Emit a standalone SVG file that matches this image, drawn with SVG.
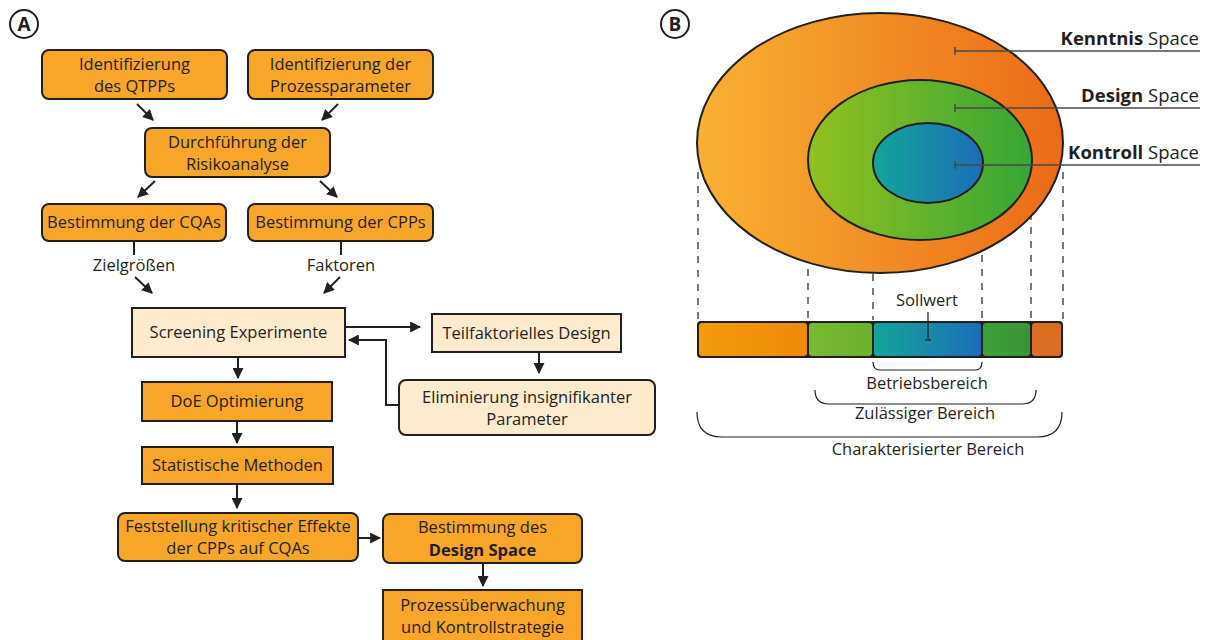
<svg xmlns="http://www.w3.org/2000/svg" width="1209" height="640" viewBox="0 0 1209 640">
  <style>
    text { font-family: "Open Sans", "Liberation Sans", sans-serif; font-size: 16.5px; fill: #231F20; }
    .c { text-anchor: middle; }
    .r { text-anchor: end; }
    .b { font-weight: bold; }
    .lg { font-size: 18.5px; }
    .box { fill: #F8A62A; stroke: #231F20; stroke-width: 2; }
    .lbox { fill: #FDEBCD; stroke: #231F20; stroke-width: 2; }
    .conn { fill: none; stroke: #231F20; stroke-width: 2; }
    .thin { fill: none; stroke: #231F20; stroke-width: 1.2; }
    .dash { fill: none; stroke: #231F20; stroke-width: 1.2; stroke-dasharray: 7 7; }
    .lead { fill: none; stroke: #4a4a4a; stroke-width: 1.5; }
    .badge { fill: #fff; stroke: #231F20; stroke-width: 2; }
    .badge-t { font-size: 19px; font-weight: bold; }
  </style>
  <defs>
    <marker id="arr" viewBox="0 0 10 10" refX="9" refY="5" markerWidth="5.5" markerHeight="5.5" orient="auto" markerUnits="strokeWidth">
      <path d="M0,0 L10,5 L0,10 z" fill="#231F20"/>
    </marker>
    <linearGradient id="gOuter" x1="0" y1="0" x2="1" y2="0">
      <stop offset="0" stop-color="#F8B133"/>
      <stop offset="1" stop-color="#EB6A17"/>
    </linearGradient>
    <linearGradient id="gMid" x1="0" y1="0" x2="1" y2="0">
      <stop offset="0" stop-color="#93C11F"/>
      <stop offset="1" stop-color="#36A636"/>
    </linearGradient>
    <linearGradient id="gIn" x1="0" y1="0" x2="1" y2="0">
      <stop offset="0" stop-color="#14A59A"/>
      <stop offset="1" stop-color="#1C6DB6"/>
    </linearGradient>
    <linearGradient id="gBarO" x1="0" y1="0" x2="1" y2="0">
      <stop offset="0" stop-color="#F39A0C"/>
      <stop offset="1" stop-color="#EE8A0A"/>
    </linearGradient>
    <linearGradient id="gBarG1" x1="0" y1="0" x2="1" y2="0">
      <stop offset="0" stop-color="#79B833"/>
      <stop offset="1" stop-color="#6AB02C"/>
    </linearGradient>
    <linearGradient id="gBarG2" x1="0" y1="0" x2="1" y2="0">
      <stop offset="0" stop-color="#3FA03A"/>
      <stop offset="1" stop-color="#3A9436"/>
    </linearGradient>
  </defs>

  <!-- Panel A: workflow -->
  <g id="badgeA">
    <circle class="badge" cx="24" cy="24" r="14"/>
    <text class="c badge-t" x="24" y="31">A</text>
  </g>

  <g id="n-qtpp">
    <rect class="box" x="42" y="50" width="185" height="49" rx="7"/>
    <text class="c" x="134.5" y="70">Identifizierung</text>
    <text class="c" x="134.5" y="92">des QTPPs</text>
  </g>
  <g id="n-pp">
    <rect class="box" x="248" y="50" width="185" height="49" rx="7"/>
    <text class="c" x="340.5" y="70">Identifizierung der</text>
    <text class="c" x="340.5" y="92">Prozessparameter</text>
  </g>
  <g id="n-risk">
    <rect class="box" x="145" y="128" width="185" height="49" rx="7"/>
    <text class="c" x="237.5" y="148">Durchführung der</text>
    <text class="c" x="237.5" y="170">Risikoanalyse</text>
  </g>
  <g id="n-cqa">
    <rect class="box" x="42" y="204" width="184" height="37" rx="7"/>
    <text class="c" x="134" y="228">Bestimmung der CQAs</text>
  </g>
  <g id="n-cpp">
    <rect class="box" x="248" y="204" width="185" height="37" rx="7"/>
    <text class="c" x="340.5" y="228">Bestimmung der CPPs</text>
  </g>
  <g id="n-screen">
    <rect class="lbox" x="132" y="308" width="213" height="49"/>
    <text class="c" x="238.5" y="338">Screening Experimente</text>
  </g>
  <g id="n-teil">
    <rect class="lbox" x="432" y="314" width="189" height="38"/>
    <text class="c" x="526.5" y="339">Teilfaktorielles Design</text>
  </g>
  <g id="n-elim">
    <rect class="lbox" x="399" y="380" width="256" height="55" rx="7"/>
    <text class="c" x="527" y="403">Eliminierung insignifikanter</text>
    <text class="c" x="527" y="425">Parameter</text>
  </g>
  <g id="n-doe">
    <rect class="box" x="142" y="382" width="190" height="39"/>
    <text class="c" x="237" y="407">DoE Optimierung</text>
  </g>
  <g id="n-stat">
    <rect class="box" x="142" y="447" width="191" height="37"/>
    <text class="c" x="237.5" y="471">Statistische Methoden</text>
  </g>
  <g id="n-fest">
    <rect class="box" x="118" y="513" width="240" height="48" rx="7"/>
    <text class="c" x="238" y="532">Feststellung kritischer Effekte</text>
    <text class="c" x="238" y="554">der CPPs auf CQAs</text>
  </g>
  <g id="n-ds">
    <rect class="box" x="383" y="514" width="199" height="49" rx="7"/>
    <text class="c" x="482.5" y="533">Bestimmung des</text>
    <text class="c b" x="482.5" y="556">Design Space</text>
  </g>
  <g id="n-proz">
    <rect class="box" x="383" y="590" width="199" height="52"/>
    <text class="c" x="482.5" y="611">Prozessüberwachung</text>
    <text class="c" x="482.5" y="633">und Kontrollstrategie</text>
  </g>

  <g id="connectors">
    <line class="conn" x1="137" y1="104" x2="153" y2="120" marker-end="url(#arr)"/>
    <line class="conn" x1="338" y1="104" x2="322" y2="120" marker-end="url(#arr)"/>
    <line class="conn" x1="155" y1="181" x2="138" y2="197" marker-end="url(#arr)"/>
    <line class="conn" x1="320" y1="181" x2="337" y2="197" marker-end="url(#arr)"/>
    <line class="conn" x1="134" y1="241" x2="134" y2="255"/>
    <text class="c" x="134" y="271">Zielgrößen</text>
    <line class="conn" x1="341" y1="241" x2="341" y2="255"/>
    <text class="c" x="341" y="271">Faktoren</text>
    <line class="conn" x1="135" y1="277" x2="152" y2="293" marker-end="url(#arr)"/>
    <line class="conn" x1="340" y1="277" x2="324" y2="293" marker-end="url(#arr)"/>
    <line class="conn" x1="345" y1="327" x2="420" y2="327" marker-end="url(#arr)"/>
    <line class="conn" x1="539" y1="352" x2="539" y2="373" marker-end="url(#arr)"/>
    <polyline class="conn" points="399,405 386,405 386,340 349,340" marker-end="url(#arr)"/>
    <line class="conn" x1="238" y1="357" x2="238" y2="378" marker-end="url(#arr)"/>
    <line class="conn" x1="237" y1="421" x2="237" y2="443" marker-end="url(#arr)"/>
    <line class="conn" x1="237" y1="484" x2="237" y2="508" marker-end="url(#arr)"/>
    <line class="conn" x1="358" y1="538" x2="380" y2="538" marker-end="url(#arr)"/>
    <line class="conn" x1="483" y1="563" x2="483" y2="586" marker-end="url(#arr)"/>
  </g>

  <!-- Panel B: knowledge / design / control space -->
  <g id="badgeB">
    <circle class="badge" cx="675" cy="24" r="14"/>
    <text class="c badge-t" x="675" y="31">B</text>
  </g>

  <g id="guides">
    <line class="dash" x1="698" y1="172" x2="698" y2="320"/>
    <line class="dash" x1="808" y1="185" x2="808" y2="320"/>
    <line class="dash" x1="873" y1="190" x2="873" y2="320"/>
    <line class="dash" x1="982" y1="185" x2="982" y2="320"/>
    <line class="dash" x1="1031" y1="185" x2="1031" y2="320"/>
    <line class="dash" x1="1063" y1="172" x2="1063" y2="320"/>
  </g>

  <g id="space-kenntnis">
    <ellipse cx="880" cy="143" rx="183" ry="130" fill="url(#gOuter)" stroke="#231F20" stroke-width="2"/>
  </g>
  <g id="space-design">
    <ellipse cx="920" cy="160" rx="112" ry="80" fill="url(#gMid)" stroke="#231F20" stroke-width="2"/>
  </g>
  <g id="space-kontroll">
    <ellipse cx="928" cy="163" rx="55" ry="40" fill="url(#gIn)" stroke="#231F20" stroke-width="2"/>
  </g>

  <g id="labels">
    <line class="lead" x1="955" y1="51" x2="1200" y2="51"/>
    <line class="lead" x1="955" y1="47" x2="955" y2="55"/>
    <text class="r lg" x="1199" y="45"><tspan class="b">Kenntnis</tspan> Space</text>
    <line class="lead" x1="955" y1="108" x2="1200" y2="108"/>
    <line class="lead" x1="955" y1="104" x2="955" y2="112"/>
    <text class="r lg" x="1199" y="102"><tspan class="b">Design</tspan> Space</text>
    <line class="lead" x1="955" y1="165" x2="1200" y2="165"/>
    <line class="lead" x1="955" y1="161" x2="955" y2="169"/>
    <text class="r lg" x="1199" y="159"><tspan class="b">Kontroll</tspan> Space</text>
  </g>

  <g id="bar">
    <rect x="697" y="321" width="366" height="37" rx="4" fill="#231F20"/>
    <rect x="699" y="323" width="108" height="33" rx="3" fill="url(#gBarO)"/>
    <rect x="809" y="323" width="63" height="33" rx="3" fill="url(#gBarG1)"/>
    <rect x="874" y="323" width="107" height="33" rx="3" fill="url(#gIn)"/>
    <rect x="983" y="323" width="47" height="33" rx="3" fill="url(#gBarG2)"/>
    <rect x="1032" y="323" width="29" height="33" rx="3" fill="#D96E22"/>
  </g>

  <g id="sollwert">
    <text class="c" x="927" y="306">Sollwert</text>
    <line class="thin" x1="928" y1="312" x2="928" y2="340"/>
    <line class="thin" x1="925" y1="340" x2="931" y2="340"/>
  </g>

  <g id="ranges">
    <path class="thin" d="M873,362 Q873,370 880,370 L975,370 Q982,370 982,362"/>
    <text class="c" x="927" y="389">Betriebsbereich</text>
    <path class="thin" d="M815,390 Q815,404 829,404 L1022,404 Q1036,404 1036,390"/>
    <text class="c" x="925" y="419">Zulässiger Bereich</text>
    <path class="thin" d="M697,412 Q697,437 722,437 L1037,437 Q1062,437 1062,412"/>
    <text class="c" x="928" y="455">Charakterisierter Bereich</text>
  </g>
</svg>
